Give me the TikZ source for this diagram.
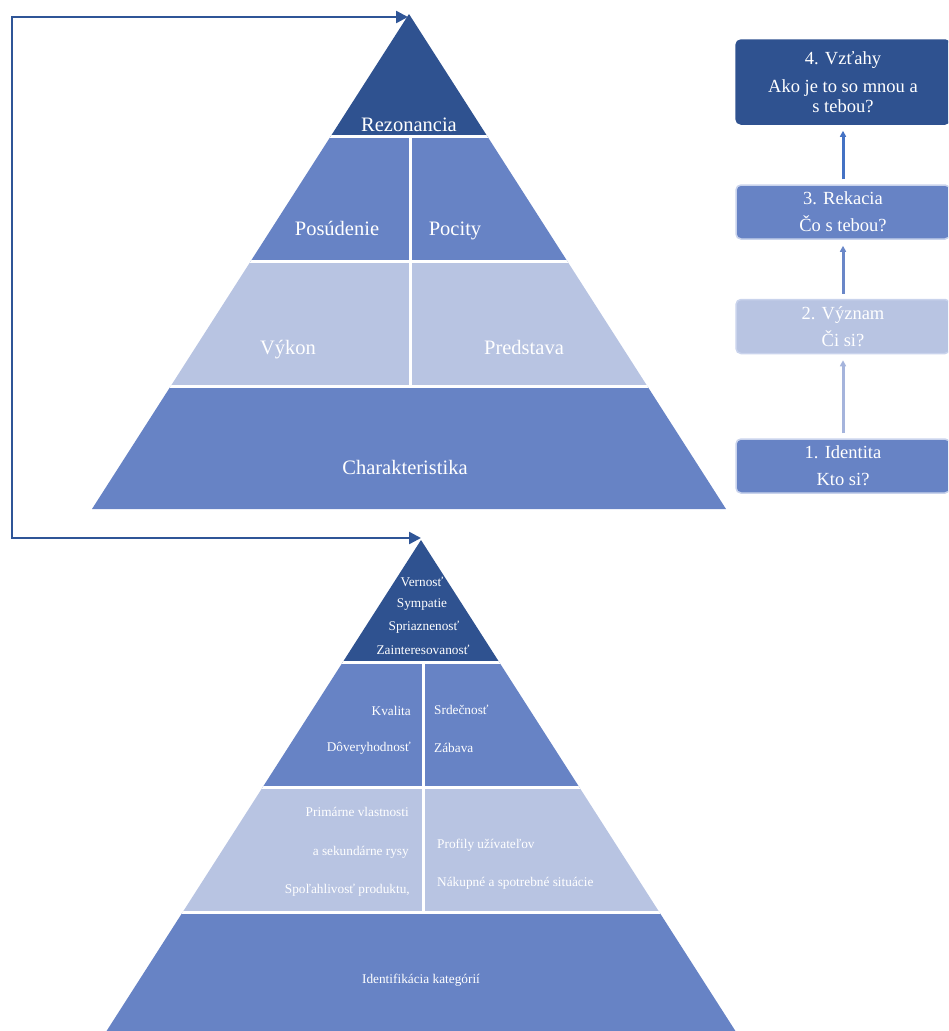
\documentclass[tikz,border=0pt]{standalone}
\usepackage{fontspec}
\setmainfont{Liberation Serif}
\usetikzlibrary{arrows.meta}
\definecolor{dk}{HTML}{2F5290}
\definecolor{md}{HTML}{6783C5}
\definecolor{lt}{HTML}{B8C4E2}
\definecolor{arrdk}{HTML}{2F5597}
\definecolor{boxrim}{HTML}{C9D3EC}
\definecolor{ar4}{HTML}{4472C4}
\definecolor{ar3}{HTML}{6A87C8}
\definecolor{ar2}{HTML}{A5B4DC}
\begin{document}
\begin{tikzpicture}[x=1pt,y=-1pt,
  bigtxt/.style={text=white,font=\rmfamily\fontsize{20.5}{22}\selectfont,inner sep=0pt,anchor=base},
  smtxt/.style={text=white,font=\rmfamily\fontsize{13.3}{15}\selectfont,inner sep=0pt},
  boxtxt/.style={text=white,font=\rmfamily\fontsize{18.5}{27}\selectfont,align=center,inner sep=0pt},
  sidebox/.style={boxtxt,rounded corners=5pt,minimum width=214pt,minimum height=54pt,draw=boxrim,line width=1.5pt},
  uparrow/.style={line width=3pt,-{Triangle[length=6pt,width=6pt]},shorten <=5pt,shorten >=6pt},
  sep/.style={white,line width=3pt}
]
\useasboundingbox (0,0) rectangle (948,1031);
\clip (0,0) rectangle (948,1031);

% ---------- top pyramid ----------
\begin{scope}[shift={(409,14)}]
  \clip (0,0) -- (-317,495) -- (317,495) -- cycle;
  \fill[dk] (-330,0) rectangle (330,122.5);
  \fill[md] (-330,122.5) rectangle (330,247.5);
  \fill[lt] (-330,247.5) rectangle (330,372.5);
  \fill[md] (-330,372.5) rectangle (330,500);
  \draw[sep] (-330,122.5) -- (330,122.5);
  \draw[sep] (-330,247.5) -- (330,247.5);
  \draw[sep] (-330,372.5) -- (330,372.5);
  \draw[sep] (1.5,122.5) -- (1.5,372.5);
\end{scope}
\coordinate (apexA) at (409,14);
\node[bigtxt] (rez) at (409,131) {Rezonancia};
\node[bigtxt] (pos) at (337,235) {Posúdenie};
\node[bigtxt] (poc) at (455,235) {Pocity};
\node[bigtxt] (vyk) at (288,354) {Výkon};
\node[bigtxt] (pred) at (524,354) {Predstava};
\node[bigtxt] (char) at (405,474) {Charakteristika};

% ---------- bottom pyramid ----------
\begin{scope}[shift={(421,540)}]
  \clip (0,0) -- (-317,495) -- (317,495) -- cycle;
  \fill[dk] (-330,0) rectangle (330,122.5);
  \fill[md] (-330,122.5) rectangle (330,247.5);
  \fill[lt] (-330,247.5) rectangle (330,372.5);
  \fill[md] (-330,372.5) rectangle (330,500);
  \draw[sep] (-330,122.5) -- (330,122.5);
  \draw[sep] (-330,247.5) -- (330,247.5);
  \draw[sep] (-330,372.5) -- (330,372.5);
  \draw[sep] (2,122.5) -- (2,372.5);
\end{scope}
\coordinate (apexB) at (421,540);
\node[smtxt] (ver) at (422,582) {Vernosť};
\node[smtxt] (sym) at (422,604.5) {Sympatie};
\node[smtxt] (spr) at (424,627) {Spriaznenosť};
\node[smtxt] (zai) at (423,650) {Zainteresovanosť};
\node[smtxt,anchor=east] (kva) at (411,711) {Kvalita};
\node[smtxt,anchor=east] (dov) at (411,748) {Dôveryhodnosť};
\node[smtxt,anchor=west] (srd) at (434,710) {Srdečnosť};
\node[smtxt,anchor=west] (zab) at (434,748) {Zábava};
\node[smtxt,anchor=east] (pri) at (409,812) {Primárne vlastnosti};
\node[smtxt,anchor=east] (sek) at (409,852) {a sekundárne rysy};
\node[smtxt,anchor=east] (spo) at (410,890) {Spoľahlivosť produktu,};
\node[smtxt,anchor=west] (pro) at (437,845) {Profily užívateľov};
\node[smtxt,anchor=west] (nak) at (437,883) {Nákupné a spotrebné situácie};
\node[smtxt] (ide) at (421,980) {Identifikácia kategórií};

% ---------- loop arrow ----------
\coordinate (tipA) at (408,17);
\coordinate (tipB) at (421,538);
\coordinate (cA) at (12,17);
\coordinate (cB) at (12,538);
\draw[arrdk,line width=2.5pt,{Triangle[length=12pt,width=12pt]}-{Triangle[length=12pt,width=12pt]}]
  (tipB) -- (cB) -- (cA) -- (tipA);

% ---------- side boxes ----------
\node[sidebox,fill=dk,draw=dk,minimum height=84pt,font=\rmfamily\fontsize{18.5}{24}\selectfont] (b4) at (843,82)
  {4. Vzťahy\\[4pt]Ako je to so mnou a\\[-4pt]s tebou?};
\node[sidebox,fill=md] (b3) at (843,212) {3. Rekacia\\Čo s tebou?};
\node[sidebox,fill=lt] (b2) at (843,326.5) {2. Význam\\Či si?};
\node[sidebox,fill=md] (b1) at (843,466) {1. Identita\\Kto si?};

\draw[uparrow,ar4] (b3) -- (b4);
\draw[uparrow,ar3] (b2) -- (b3);
\draw[uparrow,ar2] (b1) -- (b2);
\end{tikzpicture}
\end{document}
